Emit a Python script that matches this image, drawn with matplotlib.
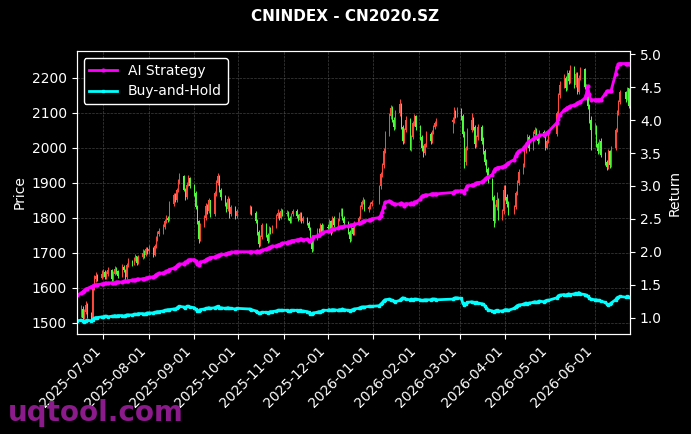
import matplotlib
matplotlib.use("Agg")
from matplotlib import pyplot as plt
import matplotlib.dates as mdates
import pandas as pd

# trading calendar (SZ exchange holidays in range)
START, END = "2025-06-13", "2026-06-25"
holidays = ["2025-10-01", "2025-10-02", "2025-10-03", "2025-10-06", "2025-10-07", "2025-10-08",
            "2026-01-01", "2026-01-02",
            "2026-02-16", "2026-02-17", "2026-02-18", "2026-02-19", "2026-02-20", "2026-02-23",
            "2026-04-06", "2026-05-01", "2026-05-04", "2026-05-05", "2026-06-19"]

first_open = 1530
closes = [
    1525, 1540, 1515, 1530, 1550, 1520, 1512, 1600, 1625, 1635, 1628, 1640,  # jun
    1645, 1632, 1640, 1650, 1625, 1640, 1655, 1648, 1635, 1660, 1650, 1630, 1665, 1675, 1670,
    1680, 1690, 1672, 1688, 1700, 1695, 1710, 1705,  # jul
    1712, 1695, 1720, 1740, 1755, 1762, 1775, 1790, 1800, 1795, 1840, 1865, 1850, 1880, 1905,
    1920, 1880, 1860, 1895, 1915, 1890,  # aug
    1870, 1830, 1790, 1740, 1780, 1800, 1835, 1820, 1850, 1810, 1870, 1900, 1920, 1880, 1860,
    1840, 1825, 1855, 1810, 1830, 1805, 1820,  # sep
    1830, 1815, 1790, 1760, 1725, 1745, 1780, 1750, 1735, 1770, 1760, 1775, 1805, 1815, 1800,
    1820, 1810,  # oct
    1815, 1800, 1790, 1810, 1820, 1805, 1795, 1812, 1790, 1800, 1785, 1770, 1745, 1710, 1740,
    1765, 1750, 1780, 1760, 1775,  # nov
    1770, 1790, 1760, 1800, 1780, 1795, 1810, 1825, 1800, 1785, 1760, 1740, 1770, 1755, 1785,
    1800, 1830, 1845, 1850, 1825, 1830, 1840, 1845,  # dec
    1890, 1925, 1950, 1990, 2040, 2090, 2115, 2080, 2060, 2100, 2125, 2060, 2020, 2050, 2080,
    2000, 2030, 2070, 2090, 2060,  # jan
    2030, 2000, 1985, 2010, 2040, 2020, 2045, 2060, 2070, 2075, 2080, 2100, 2095, 2110,  # feb
    2090, 2040, 1960, 2000, 2050, 2080, 2060, 2010, 2030, 2060, 2020, 1990, 1960, 1940, 1910,
    1860, 1790, 1830, 1850, 1800, 1820, 1880,  # mar
    1860, 1840, 1815, 1830, 1870, 1900, 1930, 1950, 1990, 2010, 2030, 2000, 2040, 2050, 2030,
    2020, 2045, 2035, 2000, 2020, 2040,  # apr
    2100, 2150, 2180, 2200, 2170, 2215, 2190, 2230, 2180, 2210, 2160, 2200, 2225, 2175, 2150,
    2120, 2080, 2050,  # may
    2060, 2010, 1990, 2020, 1980, 1960, 1945, 1990, 1950, 2000, 2050, 2100, 2130, 2160, 2140,
    2170, 2120, 2150,  # jun
]

highs = [
    1545, 1552, 1548, 1540, 1562, 1556, 1530, 1606, 1638, 1645, 1640, 1650,
    1655, 1650, 1648, 1660, 1655, 1648, 1662, 1660, 1652, 1668, 1664, 1655, 1672, 1684, 1680,
    1688, 1698, 1692, 1695, 1710, 1708, 1718, 1716,
    1722, 1718, 1726, 1748, 1762, 1770, 1782, 1798, 1808, 1806, 1848, 1872, 1870, 1886, 1912,
    1929, 1924, 1885, 1902, 1922, 1918,
    1898, 1878, 1836, 1795, 1786, 1808, 1842, 1840, 1857, 1852, 1876, 1908, 1929, 1922, 1885,
    1866, 1846, 1862, 1858, 1836, 1834, 1826,
    1838, 1834, 1820, 1796, 1765, 1752, 1786, 1784, 1756, 1776, 1774, 1780, 1812, 1825, 1818,
    1828, 1824,
    1822, 1820, 1806, 1815, 1826, 1824, 1810, 1818, 1816, 1806, 1803, 1790, 1774, 1750, 1746,
    1772, 1770, 1786, 1784, 1782,
    1782, 1796, 1794, 1806, 1804, 1800, 1816, 1829, 1828, 1804, 1790, 1765, 1776, 1774, 1790,
    1806, 1836, 1852, 1860, 1854, 1836, 1846, 1850,
    1895, 1930, 1958, 2000, 2048, 2100, 2123, 2120, 2088, 2108, 2140, 2128, 2066, 2058, 2090,
    2085, 2038, 2078, 2098, 2095,
    2066, 2038, 2008, 2015, 2048, 2046, 2051, 2066, 2078, 2086, 2088, 2117, 2108, 2116,
    2115, 2098, 2048, 2006, 2058, 2100, 2088, 2066, 2036, 2068, 2066, 2031, 1998, 1968, 1946,
    1915, 1866, 1840, 1874, 1856, 1826, 1894,
    1894, 1868, 1848, 1836, 1876, 1908, 1940, 1958, 1998, 2018, 2040, 2036, 2048, 2060, 2056,
    2036, 2052, 2050, 2040, 2026, 2046,
    2106, 2158, 2190, 2212, 2206, 2224, 2222, 2237, 2234, 2218, 2216, 2208, 2232, 2228, 2182,
    2158, 2126, 2090,
    2070, 2066, 2018, 2026, 2028, 1988, 1966, 1998, 1994, 2006, 2058, 2108, 2138, 2166, 2164,
    2174, 2172, 2158,
]

lows = [
    1512, 1518, 1508, 1510, 1525, 1515, 1505, 1508, 1595, 1618, 1620, 1626,
    1632, 1625, 1626, 1635, 1618, 1620, 1636, 1640, 1628, 1630, 1645, 1622, 1626, 1660, 1662,
    1664, 1676, 1665, 1668, 1682, 1686, 1690, 1698,
    1698, 1688, 1690, 1714, 1735, 1748, 1755, 1768, 1785, 1788, 1790, 1835, 1845, 1845, 1875,
    1898, 1876, 1850, 1855, 1890, 1884,
    1862, 1825, 1782, 1729, 1735, 1775, 1795, 1812, 1815, 1802, 1805, 1862, 1895, 1875, 1852,
    1835, 1818, 1820, 1800, 1805, 1798, 1800,
    1812, 1808, 1785, 1752, 1717, 1720, 1740, 1745, 1729, 1732, 1755, 1756, 1770, 1800, 1794,
    1796, 1804,
    1804, 1795, 1784, 1786, 1806, 1800, 1790, 1792, 1784, 1786, 1780, 1764, 1740, 1703, 1706,
    1736, 1745, 1746, 1755, 1756,
    1762, 1765, 1752, 1756, 1775, 1776, 1790, 1805, 1795, 1780, 1755, 1731, 1735, 1750, 1750,
    1780, 1796, 1826, 1840, 1820, 1818, 1826, 1835,
    1840, 1882, 1918, 1942, 1985, 2035, 2082, 2075, 2050, 2055, 2092, 2055, 2011, 2015, 2045,
    1995, 1990, 2025, 2062, 2052,
    2022, 1992, 1974, 1980, 2004, 2012, 2015, 2040, 2055, 2064, 2043, 2072, 2085, 2088,
    2080, 2032, 1943, 1952, 1995, 2045, 2052, 2000, 2004, 2024, 2012, 1982, 1950, 1930, 1900,
    1852, 1774, 1785, 1822, 1795, 1795, 1812,
    1852, 1832, 1809, 1810, 1825, 1864, 1895, 1925, 1945, 1985, 2004, 1992, 1995, 2035, 2025,
    2012, 2015, 2030, 1994, 1996, 2014,
    2035, 2089, 2142, 2172, 2162, 2165, 2184, 2185, 2172, 2175, 2154, 2155, 2195, 2168, 2140,
    2110, 2070, 1994,
    2040, 2002, 1982, 1985, 1975, 1950, 1937, 1940, 1944, 1945, 1994, 2045, 2095, 2125, 2132,
    2136, 2115, 2114,
]

ai_strategy = [
    1.34, 1.37, 1.39, 1.41, 1.43, 1.44, 1.47, 1.48, 1.49, 1.50, 1.50, 1.51,
    1.51, 1.52, 1.52, 1.52, 1.53, 1.53, 1.53, 1.54, 1.54, 1.54, 1.55, 1.55, 1.55, 1.56, 1.57,
    1.57, 1.57, 1.58, 1.58, 1.59, 1.59, 1.60, 1.60,
    1.61, 1.62, 1.63, 1.65, 1.66, 1.67, 1.68, 1.69, 1.70, 1.71, 1.73, 1.75, 1.76, 1.78, 1.80,
    1.81, 1.82, 1.84, 1.85, 1.87, 1.88,
    1.88, 1.86, 1.81, 1.80, 1.84, 1.86, 1.88, 1.89, 1.90, 1.91, 1.92, 1.93, 1.94, 1.95, 1.96,
    1.96, 1.97, 1.98, 1.98, 1.99, 2.00, 2.00,
    2.00, 2.00, 2.00, 2.01, 2.00, 2.01, 2.02, 2.04, 2.05, 2.06, 2.07, 2.08, 2.09, 2.10, 2.11,
    2.12, 2.13,
    2.14, 2.15, 2.15, 2.16, 2.17, 2.18, 2.18, 2.19, 2.19, 2.18, 2.19, 2.17, 2.16, 2.20, 2.23,
    2.24, 2.25, 2.27, 2.28, 2.30,
    2.31, 2.32, 2.33, 2.34, 2.35, 2.36, 2.37, 2.38, 2.38, 2.39, 2.39, 2.40, 2.40, 2.41, 2.42,
    2.43, 2.44, 2.45, 2.46, 2.47, 2.48, 2.49, 2.50,
    2.52, 2.55, 2.60, 2.68, 2.75, 2.77, 2.76, 2.74, 2.73, 2.72, 2.73, 2.74, 2.72, 2.70, 2.73,
    2.73, 2.74, 2.73, 2.75, 2.76,
    2.80, 2.84, 2.85, 2.86, 2.86, 2.87, 2.87, 2.88, 2.88, 2.88, 2.90, 2.91, 2.92, 2.92,
    2.93, 2.92, 2.90, 2.96, 3.00, 3.01, 3.02, 3.03, 3.04, 3.05, 3.06, 3.08, 3.10, 3.12, 3.14,
    3.17, 3.22, 3.26, 3.27, 3.28, 3.29, 3.30,
    3.31, 3.33, 3.35, 3.40, 3.46, 3.50, 3.53, 3.56, 3.59, 3.62, 3.65, 3.68, 3.71, 3.74, 3.75,
    3.76, 3.77, 3.78, 3.79, 3.81, 3.82,
    3.96, 4.02, 4.08, 4.15, 4.17, 4.19, 4.20, 4.21, 4.23, 4.24, 4.26, 4.27, 4.28, 4.33, 4.38,
    4.52, 4.40, 4.31,
    4.31, 4.31, 4.31, 4.31, 4.31, 4.40, 4.44, 4.44, 4.44, 4.45, 4.70, 4.80, 4.85, 4.86, 4.86,
    4.86, 4.86, 4.86,
]

buy_hold = [
    0.95, 0.96, 0.95, 0.94, 0.95, 0.96, 0.95, 0.97, 0.99, 1.00, 1.00, 1.01,
    1.01, 1.02, 1.02, 1.01, 1.02, 1.02, 1.03, 1.02, 1.03, 1.03, 1.02, 1.03, 1.04, 1.04, 1.04,
    1.05, 1.05, 1.05, 1.06, 1.06, 1.05, 1.06, 1.07,
    1.07, 1.07, 1.08, 1.08, 1.09, 1.09, 1.10, 1.11, 1.11, 1.12, 1.12, 1.13, 1.13, 1.14, 1.16,
    1.17, 1.16, 1.15, 1.17, 1.17, 1.16,
    1.15, 1.13, 1.10, 1.10, 1.12, 1.13, 1.14, 1.14, 1.15, 1.14, 1.15, 1.16, 1.17, 1.15, 1.15,
    1.14, 1.14, 1.15, 1.14, 1.14, 1.13, 1.14,
    1.13, 1.12, 1.10, 1.08, 1.07, 1.07, 1.08, 1.08, 1.07, 1.08, 1.09, 1.09, 1.10, 1.11, 1.11,
    1.11, 1.11,
    1.11, 1.10, 1.10, 1.11, 1.11, 1.11, 1.10, 1.11, 1.10, 1.10, 1.09, 1.08, 1.05, 1.06, 1.07,
    1.08, 1.09, 1.09, 1.10, 1.11,
    1.11, 1.12, 1.11, 1.12, 1.12, 1.11, 1.12, 1.12, 1.13, 1.12, 1.11, 1.10, 1.11, 1.12, 1.13,
    1.14, 1.15, 1.16, 1.16, 1.16, 1.17, 1.17, 1.17,
    1.18, 1.20, 1.22, 1.25, 1.27, 1.28, 1.27, 1.26, 1.25, 1.24, 1.26, 1.28, 1.30, 1.29, 1.28,
    1.27, 1.28, 1.27, 1.28, 1.28,
    1.27, 1.26, 1.26, 1.27, 1.27, 1.27, 1.28, 1.28, 1.28, 1.27, 1.28, 1.29, 1.30, 1.30,
    1.29, 1.22, 1.19, 1.21, 1.23, 1.24, 1.23, 1.22, 1.23, 1.22, 1.21, 1.20, 1.18, 1.15, 1.12,
    1.10, 1.09, 1.10, 1.11, 1.10, 1.10, 1.11,
    1.12, 1.12, 1.11, 1.14, 1.16, 1.18, 1.19, 1.20, 1.21, 1.22, 1.21, 1.22, 1.23, 1.24, 1.23,
    1.24, 1.25, 1.24, 1.25, 1.26, 1.26,
    1.30, 1.33, 1.34, 1.35, 1.34, 1.35, 1.36, 1.35, 1.36, 1.37, 1.36, 1.38, 1.36, 1.35, 1.34,
    1.32, 1.30, 1.28,
    1.27, 1.27, 1.26, 1.26, 1.25, 1.23, 1.21, 1.19, 1.20, 1.22, 1.27, 1.30, 1.31, 1.32, 1.31,
    1.32, 1.31, 1.31,
]

dates = pd.bdate_range(START, END)
dates = dates[~dates.isin(pd.to_datetime(holidays))]
opens = [first_open] + closes[:-1]
print(len(dates), len(closes), len(highs), len(lows), len(ai_strategy), len(buy_hold))

plt.style.use("dark_background")
fig = plt.figure(figsize=(6.91, 4.34), dpi=100)
ax1 = fig.add_axes([0.111, 0.2304, 0.801, 0.652])

up_color = "#ff4a3d"
down_color = "#4dff3a"
colors = [up_color if c >= o else down_color for o, c in zip(opens, closes)]
heights = [c - o for o, c in zip(opens, closes)]
ax1.vlines(dates, lows, highs, colors=colors, linewidth=0.7)
ax1.bar(dates, heights, bottom=opens, width=0.6, color=colors, linewidth=0)

ax1.set_ylabel("Price", color="white")
ax1.set_ylim(1468, 2277)
ax1.grid(True, linestyle="--", color="gray", alpha=0.5, linewidth=0.5)

ax2 = ax1.twinx()
ax2.plot(dates, ai_strategy, color="#ff00ff", linewidth=2, marker="o", markersize=2,
         label="AI Strategy")
ax2.plot(dates, buy_hold, color="#00ffff", linewidth=2, marker="s", markersize=2,
         label="Buy-and-Hold")
ax2.set_ylabel("Return", color="white")
ax2.set_ylim(0.75, 5.05)

ax1.set_xlim(dates[0], dates[-1])
ax1.xaxis.set_major_locator(mdates.MonthLocator())
ax1.xaxis.set_major_formatter(mdates.DateFormatter("%Y-%m-%d"))
plt.setp(ax1.get_xticklabels(), rotation=45, ha="right")

leg = ax2.legend(loc="upper left", facecolor="black", edgecolor="white", framealpha=1)

fig.suptitle("CNINDEX - CN2020.SZ", fontsize=11, fontweight="bold", color="white", y=0.98)
fig.text(0.012, 0.03, "uqtool.com", fontsize=20, fontweight="bold", color="#8b1a8b")

fig.savefig("out.png", dpi=100)
